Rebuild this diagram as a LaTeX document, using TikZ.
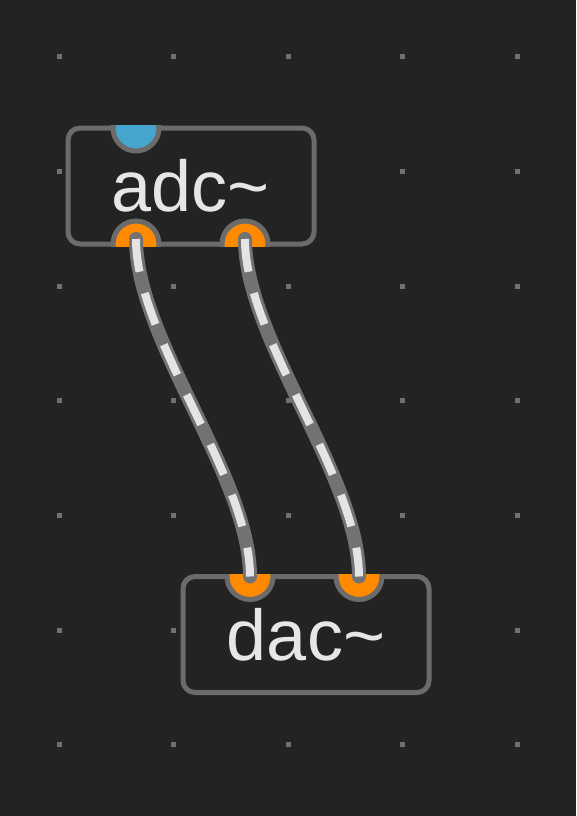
\documentclass[tikz,border=0pt]{standalone}
\usepackage{fontspec}
\setmainfont{Liberation Sans}
\usepackage{xcolor}
\usepackage{tikz}
\usetikzlibrary{calc}

\definecolor{patchbg}{HTML}{232323}
\definecolor{boxgrey}{HTML}{6B6B6B}
\definecolor{dotgrey}{HTML}{707070}
\definecolor{cablegrey}{HTML}{727272}
\definecolor{cablewhite}{HTML}{E4E4E4}
\definecolor{objtext}{HTML}{E6E6E6}
\definecolor{portorange}{HTML}{FF8A00}
\definecolor{portblue}{HTML}{45A5CF}

\begin{document}
\begin{tikzpicture}[x=1pt, y=1pt,
    objbox/.style={draw=boxgrey, fill=patchbg, line width=5pt, rounded corners=12pt,
      minimum width=246pt, minimum height=116pt, inner sep=0pt, outer sep=0pt,
      text=objtext, font=\fontsize{72}{80}\selectfont},
    outlet/.style={circle, draw=boxgrey, fill=portorange, line width=5pt,
      minimum size=46pt, inner sep=0pt, outer sep=0pt},
    inlet/.style={outlet, fill=portblue},
    cable/.style={draw=cablegrey, line width=14pt, line cap=round,
      postaction={draw=cablewhite, line width=8pt, line cap=butt, dash pattern=on 33pt off 22pt}},
    griddot/.style={fill=dotgrey}]
        % Canvas
        \useasboundingbox (0,0) rectangle (576,-816);
        \fill[patchbg] (0,0) rectangle (576,-816);
        % Grid
        \foreach \gx in {0,...,4}
          \foreach \gy in {0,...,6}
            \fill[griddot] ({56.5+114.5*\gx},{-54.5-114.6*\gy}) rectangle +(5,-5);
        % Objects
        \node[objbox] (adc) at (191,-186) {adc\textasciitilde};
        \node[objbox] (dac) at (306,-634.5) {dac\textasciitilde};
        % Ports
        \begin{scope}
          \clip ([shift={(-2.5,-2.5)}]adc.south west) rectangle ([shift={(2.5,2.5)}]adc.north east);
          \node[inlet] (adc-in) at ($(adc.north west)+(68,0)$) {};
          \node[outlet] (adc-out1) at ($(adc.south west)+(68,0)$) {};
          \node[outlet] (adc-out2) at ($(adc.south west)+(177,0)$) {};
        \end{scope}
        \begin{scope}
          \clip ([shift={(-2.5,-2.5)}]dac.south west) rectangle ([shift={(2.5,2.5)}]dac.north east);
          \node[outlet] (dac-in1) at ($(dac.north west)+(67,0)$) {};
          \node[outlet] (dac-in2) at ($(dac.north west)+(176,0)$) {};
        \end{scope}
        % Cables
        \draw[cable] ([yshift=5]adc-out1.center) .. controls +(0,-100) and +(0,100) .. (dac-in1.center);
        \draw[cable] ([yshift=5]adc-out2.center) .. controls +(0,-100) and +(0,100) .. (dac-in2.center);
      \end{tikzpicture}
\end{document}
